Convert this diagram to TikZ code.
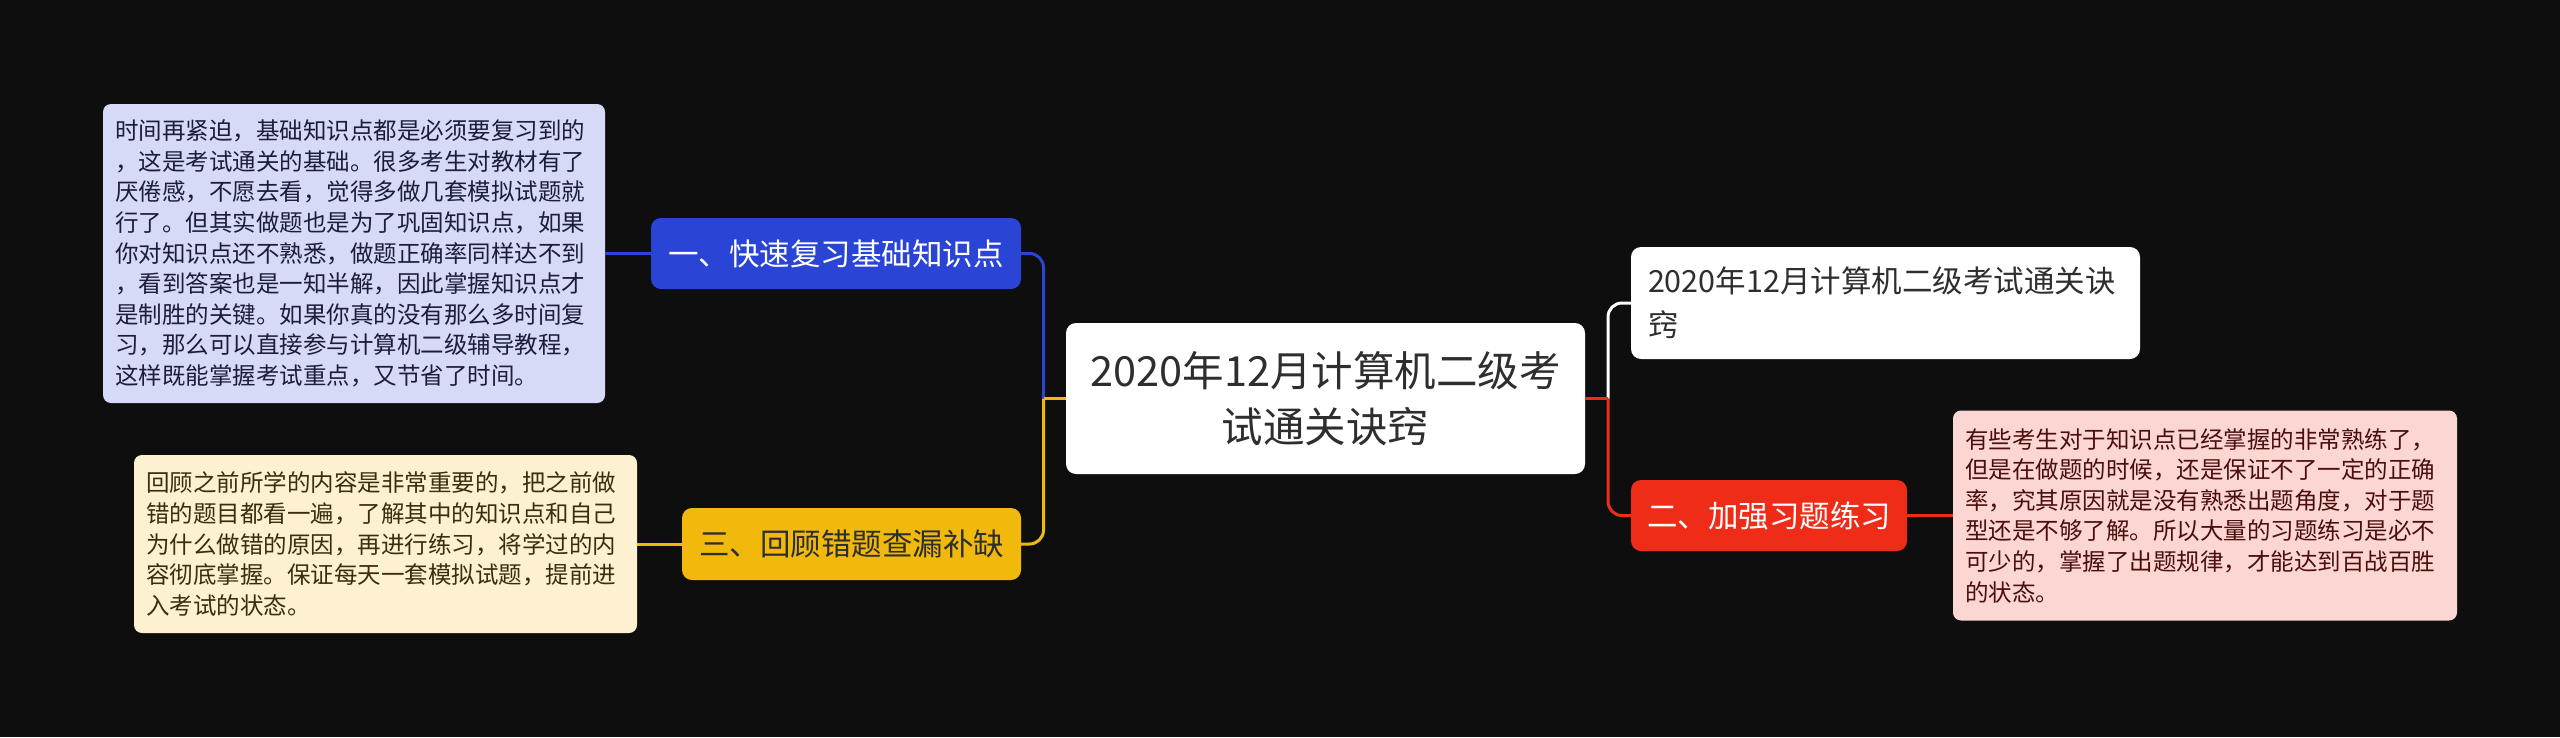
\documentclass[tikz,border=0pt]{standalone}
\usepackage{fontspec}
\setmainfont{Noto Sans CJK SC}
\definecolor{bgc}{HTML}{0E0E0E}
\definecolor{bluec}{HTML}{2A44D6}
\definecolor{yellowc}{HTML}{F0B90C}
\definecolor{redc}{HTML}{EE2C18}
\definecolor{blueleaf}{HTML}{D6DAF6}
\definecolor{yellowleaf}{HTML}{FDF1D2}
\definecolor{redleaf}{HTML}{FCD6D3}
\definecolor{darktext}{HTML}{2E2E2E}
\definecolor{bluetext}{HTML}{1C1E38}
\definecolor{yellowtext}{HTML}{3A2E0C}
\definecolor{redtext}{HTML}{4A0E0C}
\tikzset{
  leafbox/.style={rectangle, rounded corners=8pt, inner xsep=12pt, inner ysep=0pt,
    align=left, font=\fontsize{23.5pt}{30.6pt}\selectfont},
  mainbox/.style={rectangle, rounded corners=10pt, inner sep=0pt,
    font=\fontsize{30.5pt}{40pt}\selectfont},
  conn/.style={line width=3pt},
}
\begin{document}
\begin{tikzpicture}[x=1pt,y=-1pt]
\fill[bgc] (0,0) rectangle (2560,737);
\useasboundingbox (0,0) rectangle (2560,737);

% center
\node[mainbox, fill=white, text=darktext, minimum width=519pt, minimum height=151pt,
  align=center, font=\fontsize{41.5pt}{56pt}\selectfont] (c) at (1325.5,398.5)
  {2020年12月计算机二级考\\试通关诀窍};

% left main nodes
\node[mainbox, fill=bluec, text=white, minimum width=370pt, minimum height=71pt] (b1) at (836,253.5) {一、快速复习基础知识点};
\node[mainbox, fill=yellowc, text=darktext, minimum width=339pt, minimum height=72pt] (b3) at (851.5,544) {三、回顾错题查漏补缺};

% right main nodes
\node[mainbox, fill=white, text=darktext, minimum width=509pt, minimum height=112pt,
  text width=475pt, inner xsep=17pt, align=left, font=\fontsize{30.5pt}{44pt}\selectfont] (w) at (1885.5,303)
  {2020年12月计算机二级考试通关诀\\窍};
\node[mainbox, fill=redc, text=white, minimum width=276pt, minimum height=71pt] (b2) at (1769,515.5) {二、加强习题练习};

% leaves
\node[leafbox, fill=blueleaf, text=bluetext, text width=478pt, minimum width=502pt, minimum height=299pt] (l1) at (354,253.5)
{时间再紧迫，基础知识点都是必须要复习到的\\
，这是考试通关的基础。很多考生对教材有了\\
厌倦感，不愿去看，觉得多做几套模拟试题就\\
行了。但其实做题也是为了巩固知识点，如果\\
你对知识点还不熟悉，做题正确率同样达不到\\
，看到答案也是一知半解，因此掌握知识点才\\
是制胜的关键。如果你真的没有那么多时间复\\
习，那么可以直接参与计算机二级辅导教程，\\
这样既能掌握考试重点，又节省了时间。};

\node[leafbox, fill=yellowleaf, text=yellowtext, text width=479pt, minimum width=503pt, minimum height=178pt] (l3) at (385.5,544)
{回顾之前所学的内容是非常重要的，把之前做\\
错的题目都看一遍，了解其中的知识点和自己\\
为什么做错的原因，再进行练习，将学过的内\\
容彻底掌握。保证每天一套模拟试题，提前进\\
入考试的状态。};

\node[leafbox, fill=redleaf, text=redtext, text width=480pt, minimum width=504pt, minimum height=210pt] (l2) at (2205,515.5)
{有些考生对于知识点已经掌握的非常熟练了，\\
但是在做题的时候，还是保证不了一定的正确\\
率，究其原因就是没有熟悉出题角度，对于题\\
型还是不够了解。所以大量的习题练习是必不\\
可少的，掌握了出题规律，才能达到百战百胜\\
的状态。};

% spine coordinates
\coordinate (sl) at (1043.5,398.5);
\coordinate (sr) at (1608,398.5);

% left connectors
\draw[conn, bluec, rounded corners=14pt] (sl) |- (b1.east);
\draw[conn, yellowc, rounded corners=14pt] (sl) |- (b3.east);
\draw[conn, yellowc] (c.west) -- (sl);
\draw[conn, bluec] (l1.east) -- (b1.west);
\draw[conn, yellowc] (l3.east) -- (b3.west);

% right connectors
\draw[conn, white, rounded corners=14pt] (sr) |- (w.west);
\draw[conn, redc, rounded corners=14pt] (sr) |- (b2.east -| b2.west);
\draw[conn, redc] (c.east) -- (sr);
\draw[conn, redc] (b2.east) -- (l2.west |- b2.east);
\end{tikzpicture}
\end{document}
